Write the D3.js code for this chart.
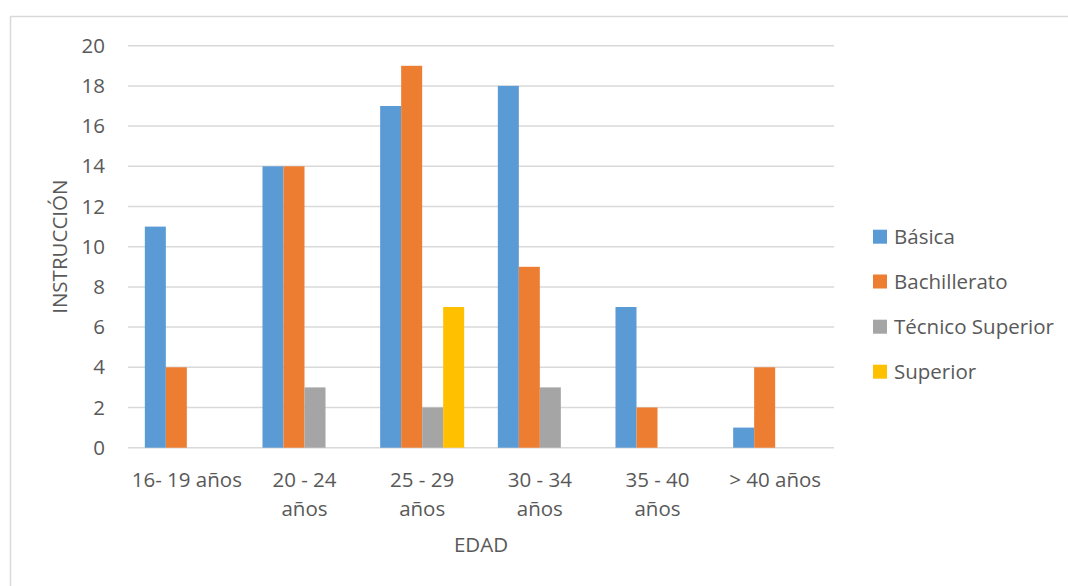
<!DOCTYPE html>
<html>
<head>
<meta charset="utf-8">
<script src="https://cdn.jsdelivr.net/npm/d3@7/dist/d3.min.js"></script>
<style>
  html, body { margin: 0; padding: 0; background: #fff; }
  svg { display: block; }
  text { font-family: "Open Sans", "Noto Sans", sans-serif; fill: #595959; }
</style>
</head>
<body>
<svg id="chart" width="1068" height="586"></svg>
<script>
// Age groups (tick labels, with line breaks where the label wraps)
const categories = ["16- 19 años", "20 - 24 años", "25 - 29 años", "30 - 34 años", "35 - 40 años", "> 40 años"];
const categoryLines = [["16- 19 años"], ["20 - 24", "años"], ["25 - 29", "años"], ["30 - 34", "años"], ["35 - 40", "años"], ["> 40 años"]];

// Education level series
const series = ["Básica", "Bachillerato", "Técnico Superior", "Superior"];
const basica = [11, 14, 17, 18, 7, 1];
const bachillerato = [4, 14, 19, 9, 2, 4];
const tecnicoSuperior = [0, 3, 2, 3, 0, 0];
const superior = [0, 0, 7, 0, 0, 0];
const seriesValues = [basica, bachillerato, tecnicoSuperior, superior];
const colors = ["#5B9BD5", "#ED7D31", "#A5A5A5", "#FFC000"];

const yTicks = [0, 2, 4, 6, 8, 10, 12, 14, 16, 18, 20];

const FS = 20.5;
const svg = d3.select("#chart");

// Outer chart frame
svg.append("rect")
  .attr("x", 10.5).attr("y", 16.5)
  .attr("width", 1200).attr("height", 700)
  .attr("fill", "none").attr("stroke", "#d9d9d9").attr("stroke-width", 1.5);

const plot = { left: 128, right: 834, top: 45.7, bottom: 447.7 };

const x0 = d3.scaleBand()
  .domain(categories)
  .range([plot.left, plot.right])
  .paddingInner(0.286)
  .paddingOuter(0.143);

const x1 = d3.scaleBand()
  .domain(series)
  .range([0, x0.bandwidth()]);

const y = d3.scaleLinear()
  .domain([0, 20])
  .range([plot.bottom, plot.top]);

// Horizontal gridlines
svg.append("g")
  .selectAll("line")
  .data(yTicks)
  .join("line")
  .attr("x1", plot.left).attr("x2", plot.right)
  .attr("y1", d => y(d)).attr("y2", d => y(d))
  .attr("stroke", "#d9d9d9").attr("stroke-width", 1.5);

// Y axis labels
const yAxis = d3.axisLeft(y).tickValues(yTicks).tickSize(0).tickPadding(0);
const gy = svg.append("g").attr("transform", `translate(105,0)`).call(yAxis);
gy.select(".domain").remove();
gy.selectAll("text")
  .attr("font-size", FS)
  .attr("fill", "#595959")
  .attr("font-family", "'Open Sans', 'Noto Sans', sans-serif");

// Bars
const rows = categories.map((c, i) => ({ cat: c, values: series.map((s, j) => ({ s, v: seriesValues[j][i], color: colors[j] })) }));

svg.append("g")
  .selectAll("g")
  .data(rows)
  .join("g")
  .attr("transform", d => `translate(${x0(d.cat)},0)`)
  .selectAll("rect")
  .data(d => d.values.filter(e => e.v > 0))
  .join("rect")
  .attr("x", d => x1(d.s))
  .attr("width", x1.bandwidth())
  .attr("y", d => y(d.v))
  .attr("height", d => y(0) - y(d.v))
  .attr("fill", d => d.color);

// X axis category labels
const xLabels = svg.append("g")
  .selectAll("text")
  .data(categories)
  .join("text")
  .attr("x", d => x0(d) + x0.bandwidth() / 2)
  .attr("y", 487)
  .attr("text-anchor", "middle")
  .attr("font-size", FS);
xLabels.each(function(d, i) {
  const t = d3.select(this);
  categoryLines[i].forEach((line, k) => {
    t.append("tspan")
      .attr("x", x0(d) + x0.bandwidth() / 2)
      .attr("dy", k === 0 ? 0 : 29)
      .text(line);
  });
});

// Axis titles
svg.append("text")
  .attr("x", (plot.left + plot.right) / 2)
  .attr("y", 552)
  .attr("text-anchor", "middle")
  .attr("font-size", FS)
  .text("EDAD");

svg.append("text")
  .attr("transform", `translate(67,${(plot.top + plot.bottom) / 2}) rotate(-90)`)
  .attr("text-anchor", "middle")
  .attr("font-size", FS)
  .text("INSTRUCCIÓN");

// Legend
const legendY = [236.7, 281.5, 326.7, 371.7];
const legend = svg.append("g")
  .selectAll("g")
  .data(series)
  .join("g")
  .attr("transform", (d, i) => `translate(873,${legendY[i]})`);
legend.append("rect")
  .attr("x", 0).attr("y", -7)
  .attr("width", 14).attr("height", 14)
  .attr("fill", (d, i) => colors[i]);
legend.append("text")
  .attr("x", 21)
  .attr("dy", "0.35em")
  .attr("font-size", FS)
  .text(d => d);
</script>
</body>
</html>
